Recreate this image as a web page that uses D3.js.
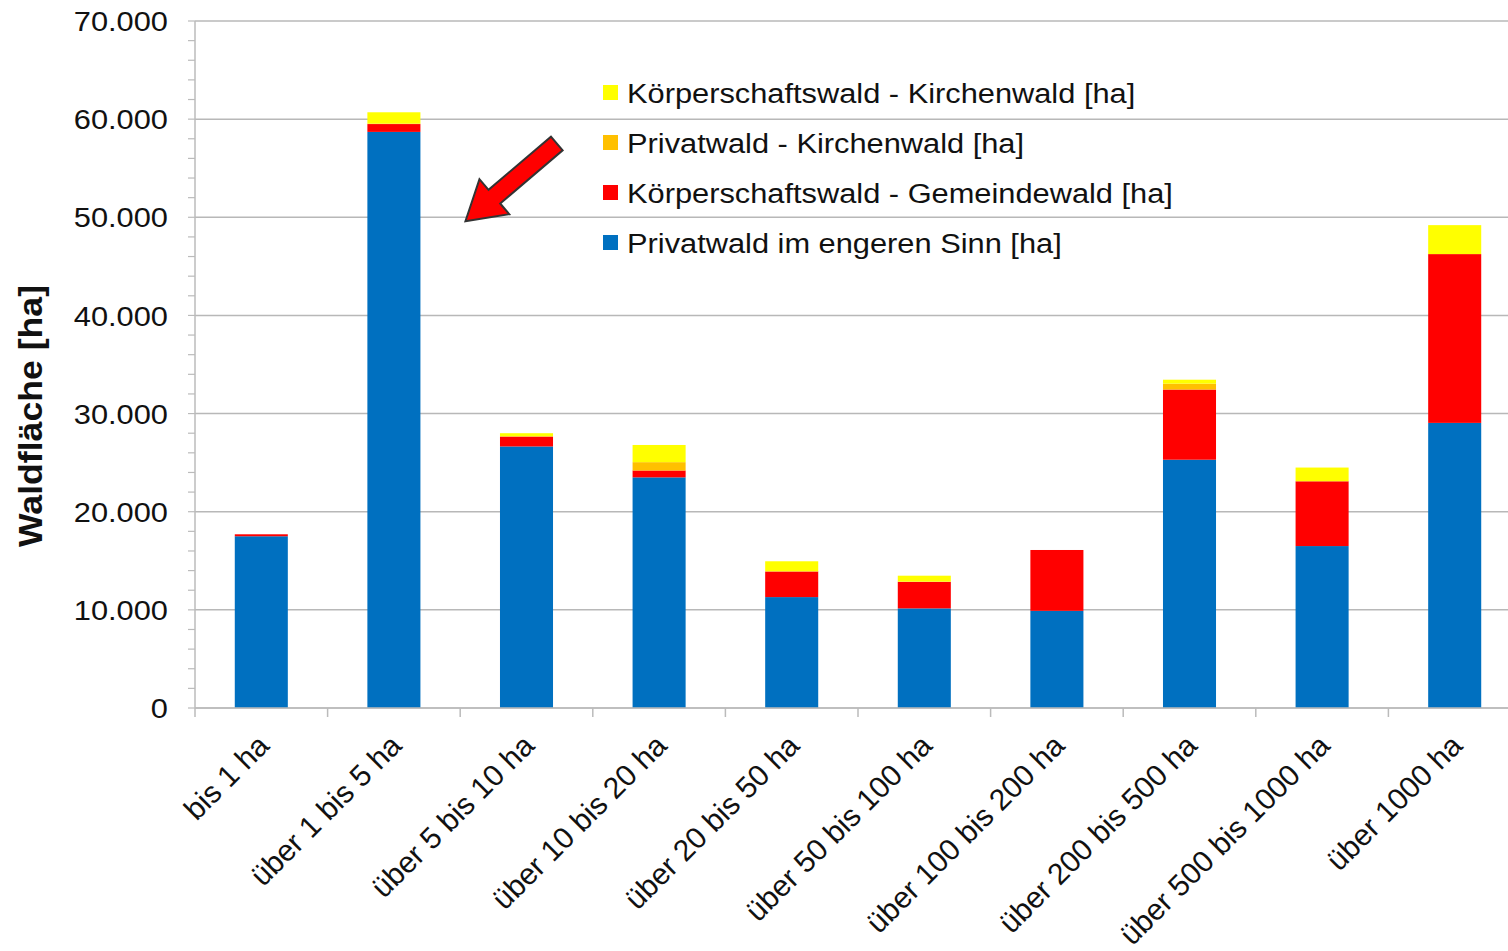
<!DOCTYPE html>
<html lang="de">

<head>
    <meta charset="UTF-8">
    <title>Waldfläche nach Größenklassen</title>
    <script src="https://d3js.org/d3.v7.min.js"></script>
    <style>
        body {
            margin: 0;
            background: #fff;
            font-family: "Liberation Sans", Arial, sans-serif;
        }

        text {
            fill: #111;
        }
    </style>
</head>

<body>
    <svg id="chart" width="1508" height="951"></svg>
    <script>
        // Größenklassen
        let categories = ["bis 1 ha", "über 1 bis 5 ha", "über 5 bis 10 ha", "über 10 bis 20 ha",
            "über 20 bis 50 ha", "über 50 bis 100 ha", "über 100 bis 200 ha", "über 200 bis 500 ha",
            "über 500 bis 1000 ha", "über 1000 ha"]

        // series, stacked from the bottom up
        let privatwaldEngerSinn = [17500, 58700, 26650, 23500, 11300, 10150, 9900, 25300, 16500, 29050]
        let gemeindewald = [200, 800, 1000, 700, 2600, 2700, 6200, 7150, 6600, 17200]
        let privatKirchenwald = [0, 50, 50, 850, 50, 30, 0, 600, 0, 0]
        let koerperKirchenwald = [0, 1150, 300, 1750, 1000, 600, 0, 400, 1400, 2950]

        let seriesNames = ["Privatwald im engeren Sinn [ha]", "Körperschaftswald - Gemeindewald [ha]",
            "Privatwald - Kirchenwald [ha]", "Körperschaftswald - Kirchenwald [ha]"]
        let seriesColors = ["#0070C0", "#FF0000", "#FFC000", "#FFFF00"]

        let yTicks = [0, 10000, 20000, 30000, 40000, 50000, 60000, 70000]

        let svg = d3.select("#chart")
        let margin = { left: 195, top: 21, bottom: 243 }
        let plotRight = 1521
        let plotBottom = 951 - margin.bottom
        let stretch = 1.1   // text in the original is a bit wider than plain Arial

        let rows = categories.map((c, i) => ({
            cat: c,
            s0: privatwaldEngerSinn[i],
            s1: gemeindewald[i],
            s2: privatKirchenwald[i],
            s3: koerperKirchenwald[i]
        }))
        let keys = ["s0", "s1", "s2", "s3"]
        let stacked = d3.stack().keys(keys)(rows)

        let x = d3.scaleBand().domain(categories).range([margin.left, plotRight]).paddingInner(0.6).paddingOuter(0.3)
        let xBand = d3.scaleBand().domain(categories).range([margin.left, plotRight])
        let y = d3.scaleLinear().domain([0, 70000]).range([plotBottom, margin.top])

        let fmt = v => d3.format(",")(v).replace(/,/g, ".")

        // gridlines
        svg.append("g").selectAll("line")
            .data(yTicks)
            .join("line")
            .attr("x1", margin.left).attr("x2", plotRight)
            .attr("y1", d => y(d)).attr("y2", d => y(d))
            .attr("stroke", "#b8b8b8").attr("stroke-width", 1.5)

        // y minor ticks
        svg.append("g").selectAll("line")
            .data(d3.range(0, 70001, 2000))
            .join("line")
            .attr("x1", margin.left - 7).attr("x2", margin.left)
            .attr("y1", d => y(d)).attr("y2", d => y(d))
            .attr("stroke", "#bbb").attr("stroke-width", 1.2)

        // y axis line
        svg.append("line")
            .attr("x1", margin.left).attr("x2", margin.left)
            .attr("y1", y(70000)).attr("y2", y(0))
            .attr("stroke", "#bbb").attr("stroke-width", 1.5)

        // y labels
        svg.append("g").selectAll("text")
            .data(yTicks)
            .join("text")
            .attr("transform", d => `translate(${margin.left - 27}, ${y(d)}) scale(${stretch}, 1)`)
            .attr("dy", "0.36em")
            .attr("text-anchor", "end")
            .style("font-size", "28px")
            .text(d => fmt(d))

        svg.append("text")
            .attr("transform", `translate(42, 416) rotate(-90)`)
            .attr("text-anchor", "middle")
            .attr("textLength", 262)
            .attr("lengthAdjust", "spacingAndGlyphs")
            .style("font-size", "33px")
            .style("font-weight", "bold")
            .text("Waldfläche [ha]")

        // bars
        svg.append("g").selectAll("g")
            .data(stacked)
            .join("g")
            .attr("fill", (d, i) => seriesColors[i])
            .selectAll("rect")
            .data(d => d)
            .join("rect")
            .attr("x", d => x(d.data.cat))
            .attr("width", x.bandwidth())
            .attr("y", d => y(d[1]))
            .attr("height", d => y(d[0]) - y(d[1]))

        // x axis
        svg.append("line")
            .attr("x1", margin.left).attr("x2", plotRight)
            .attr("y1", y(0)).attr("y2", y(0))
            .attr("stroke", "#bbb").attr("stroke-width", 1.5)

        svg.append("g").selectAll("line")
            .data(categories)
            .join("line")
            .attr("x1", d => xBand(d)).attr("x2", d => xBand(d))
            .attr("y1", y(0)).attr("y2", y(0) + 9)
            .attr("stroke", "#bbb").attr("stroke-width", 1.5)

        svg.append("g").selectAll("text")
            .data(categories)
            .join("text")
            .attr("transform", d => `translate(${xBand(d) + xBand.bandwidth() / 2 + 2}, ${y(0) + 32}) rotate(-45)`)
            .attr("text-anchor", "end")
            .attr("dy", "0.35em")
            .style("font-size", "30px")
            .text(d => d)

        // legend (reverse order, top = last series)
        let legend = svg.append("g").attr("transform", "translate(603, 93)")
        let legendItems = legend.selectAll("g")
            .data(d3.range(seriesNames.length).reverse())
            .join("g")
            .attr("transform", (d, i) => `translate(0, ${i * 50})`)
        legendItems.append("rect")
            .attr("x", 0).attr("y", -8)
            .attr("width", 15).attr("height", 15)
            .attr("fill", d => seriesColors[d])
        legendItems.append("text")
            .attr("transform", `translate(24, 0) scale(${stretch}, 1)`)
            .attr("dy", "0.36em")
            .style("font-size", "28px")
            .text(d => seriesNames[d])

        // red arrow pointing at the second bar
        let tipX = x(categories[1]) + x.bandwidth() + 45
        let tipY = y(50000) + 4
        let arrowLen = 120, shaft = 9, head = 23, headLen = 38
        let arrowPts = [
            [0, 0], [headLen, -head], [headLen, -shaft], [arrowLen, -shaft],
            [arrowLen, shaft], [headLen, shaft], [headLen, head]
        ]
        svg.append("polygon")
            .attr("points", arrowPts.map(p => p.join(",")).join(" "))
            .attr("transform", `translate(${tipX}, ${tipY}) rotate(-40.4)`)
            .attr("fill", "#FF0000")
            .attr("stroke", "#333")
            .attr("stroke-width", 2)
            .attr("stroke-linejoin", "miter")
    </script>
</body>

</html>
